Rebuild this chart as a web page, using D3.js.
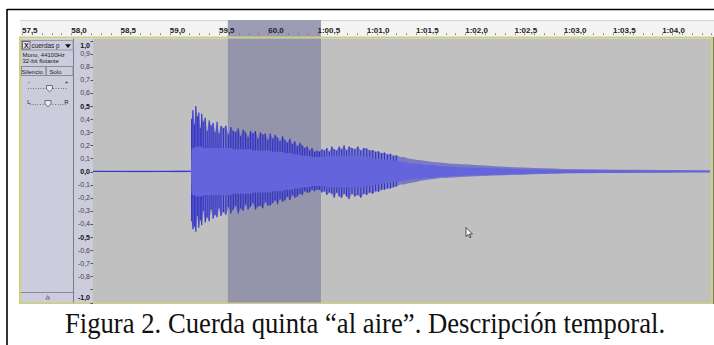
<!DOCTYPE html>
<html><head><meta charset="utf-8">
<script src="https://cdn.jsdelivr.net/npm/d3@7"></script>
<style>body{margin:0;background:#fff}svg{display:block}</style></head>
<body><svg id="c" width="714" height="345"></svg>
<script>
// ---- data ----
const rulerTimes  = [57.5,58.0,58.5,59.0,59.5,60.0,60.5,61.0,61.5,62.0,62.5,63.0,63.5,64.0];
const rulerLabels = ["57,5","58,0","58,5","59,0","59,5","60.0","1:00,5","1:01,0","1:01,5","1:02,0","1:02,5","1:03,0","1:03,5","1:04,0"];
const ampTicks  = [1.0,0.9,0.8,0.7,0.6,0.5,0.4,0.3,0.2,0.1,0.0,-0.1,-0.2,-0.3,-0.4,-0.5,-0.6,-0.7,-0.8,-0.9,-1.0];
const ampLabels = ["1,0","0,9","0,8","0,7","0,6","0,5","0,4","0,3","0,2","0,1","0,0","-0,1","-0,2","-0,3","-0,4","-0,5","-0,6","-0,7","-0,8","","-1,0"];
const ampBold   = ["1,0","0,5","0,0","-0,5","-1,0"];
const selection = [59.59, 60.535];
const trackName = "cuerdas p";
const trackInfo = ["Mono, 44100Hz","32-bit flotante"];
const caption = "Figura 2. Cuerda quinta \u201cal aire\u201d. Descripción temporal.";

const envTime = [58.22,58.45,58.70,58.95,59.10,59.215,
 59.222,59.235,59.25,59.265,59.28,59.295,59.31,59.325,59.34,59.36,59.38,59.40,59.42,59.44,59.46,59.48,59.50,59.52,
 59.545,59.57,59.595,59.62,59.645,59.67,59.695,59.72,59.745,59.77,59.795,59.82,59.845,59.87,59.895,59.92,59.945,59.97,59.995,
 60.02,60.045,60.07,60.095,60.12,60.145,60.17,60.195,60.22,60.245,60.27,60.295,60.32,60.345,60.37,60.395,60.42,60.445,60.47,60.495,
 60.52,60.545,60.57,60.595,60.62,60.645,60.67,60.695,60.72,60.745,60.77,60.795,60.82,60.85,60.88,60.91,60.94,60.97,
 61.00,61.03,61.06,61.09,61.12,61.15,61.18,61.21,61.24,61.27,61.30,61.34,61.38,61.42,61.46,61.50,61.55,61.60,61.65,61.70,61.75,61.80,61.85,61.90,61.95,
 62.00,62.10,62.20,62.30,62.40,62.50,62.60,62.70,62.80,62.90,63.00,63.20,63.40,63.60,63.80,64.00,64.20,64.50];
const envMax = [0.006,0.005,0.006,0.005,0.007,0.006,
 0.40,0.47,0.36,0.50,0.42,0.45,0.33,0.44,0.38,0.41,0.31,0.39,0.35,0.37,0.30,0.38,0.29,0.35,
 0.33,0.35,0.28,0.34,0.31,0.30,0.33,0.27,0.32,0.30,0.26,0.31,0.29,0.31,0.25,0.30,0.28,0.29,0.24,
 0.29,0.25,0.28,0.26,0.23,0.27,0.24,0.22,0.25,0.21,0.23,0.19,0.22,0.20,0.18,0.19,0.16,0.18,0.15,0.16,
 0.15,0.17,0.16,0.18,0.15,0.19,0.17,0.16,0.19,0.17,0.20,0.16,0.19,0.18,0.17,0.19,0.16,0.18,
 0.175,0.16,0.165,0.15,0.155,0.14,0.145,0.13,0.135,0.12,0.125,0.11,0.11,0.10,0.095,0.09,0.085,0.08,0.075,0.07,0.068,0.065,0.06,0.06,0.055,
 0.055,0.05,0.045,0.04,0.036,0.032,0.03,0.027,0.025,0.022,0.02,0.018,0.016,0.014,0.013,0.012,0.011,0.01];
const envMin = [-0.004,-0.004,-0.005,-0.004,-0.005,-0.004,
 -0.38,-0.44,-0.42,-0.46,-0.34,-0.43,-0.37,-0.41,-0.30,-0.39,-0.35,-0.38,-0.29,-0.36,-0.33,-0.35,-0.28,-0.34,
 -0.31,-0.33,-0.27,-0.32,-0.29,-0.26,-0.32,-0.28,-0.30,-0.25,-0.29,-0.27,-0.24,-0.29,-0.27,-0.26,-0.28,-0.23,-0.26,
 -0.26,-0.24,-0.22,-0.25,-0.21,-0.23,-0.22,-0.19,-0.22,-0.18,-0.20,-0.19,-0.17,-0.18,-0.15,-0.16,-0.16,-0.14,-0.15,-0.14,
 -0.14,-0.16,-0.15,-0.18,-0.16,-0.17,-0.20,-0.16,-0.19,-0.20,-0.17,-0.19,-0.21,-0.17,-0.19,-0.18,-0.20,-0.17,
 -0.18,-0.16,-0.17,-0.15,-0.155,-0.14,-0.14,-0.13,-0.13,-0.12,-0.115,-0.10,-0.10,-0.09,-0.085,-0.08,-0.07,-0.065,-0.06,-0.055,-0.05,-0.05,-0.045,-0.045,-0.042,
 -0.04,-0.037,-0.034,-0.03,-0.028,-0.026,-0.024,-0.021,-0.019,-0.017,-0.016,-0.014,-0.012,-0.011,-0.01,-0.009,-0.008,-0.007];
const envRms = [0.002,0.002,0.002,0.002,0.002,0.002,
 0.17,0.18,0.18,0.19,0.19,0.19,0.19,0.19,0.18,0.18,0.18,0.18,0.18,0.18,0.18,0.18,0.18,0.18,
 0.18,0.18,0.18,0.18,0.17,0.17,0.17,0.17,0.17,0.17,0.17,0.17,0.16,0.16,0.16,0.16,0.16,0.16,0.16,
 0.16,0.15,0.15,0.15,0.15,0.15,0.14,0.14,0.14,0.14,0.13,0.13,0.13,0.12,0.12,0.12,0.12,0.11,0.11,0.11,
 0.11,0.11,0.11,0.12,0.12,0.12,0.12,0.12,0.12,0.12,0.12,0.12,0.12,0.12,0.12,0.12,0.12,0.115,
 0.11,0.11,0.105,0.10,0.10,0.095,0.09,0.09,0.085,0.08,0.08,0.075,0.07,0.065,0.06,0.06,0.055,0.05,0.05,0.045,0.04,0.04,0.038,0.035,0.033,
 0.03,0.028,0.026,0.024,0.022,0.02,0.018,0.016,0.015,0.013,0.012,0.011,0.01,0.009,0.008,0.007,0.006,0.006];

// ---- drawing ----
const svg = d3.select("#c");
const x = d3.scaleLinear().domain([57.5, 64.0]).range([22, 662.25]);
const y = d3.scaleLinear().domain([-1, 1]).range([302.5, 40.5]);
const LAV = "#ccccdc", sans = "'Liberation Sans', Arial, sans-serif";

// outer frame
svg.append("line").attr("x1",7).attr("x2",714).attr("y1",9.5).attr("y2",9.5).attr("stroke","#000").attr("stroke-width",1.6);
svg.append("line").attr("x1",7).attr("x2",7).attr("y1",9).attr("y2",345).attr("stroke","#000").attr("stroke-width",1.6);

// time ruler
svg.append("rect").attr("x",20).attr("y",20).attr("width",694).attr("height",17).attr("fill","#f3f3f3");
svg.append("line").attr("x1",20).attr("x2",714).attr("y1",20.5).attr("y2",20.5).attr("stroke","#d4d4d4");
svg.append("rect").attr("x",x(selection[0])).attr("y",20).attr("width",x(selection[1])-x(selection[0])).attr("height",17).attr("fill","#9c9cb4");
const minor = d3.range(575, 646).map(d => d/10);
svg.append("g").selectAll("line").data(minor).join("line")
  .attr("x1",d=>Math.round(x(d))+0.5).attr("x2",d=>Math.round(x(d))+0.5)
  .attr("y1",33.5).attr("y2",35).attr("stroke","#777").attr("stroke-width",1);
svg.append("g").selectAll("text").data(rulerTimes).join("text")
  .attr("x",d=>x(d)).attr("y",32.5).text((d,i)=>rulerLabels[i])
  .attr("font-family",sans).attr("font-weight","bold").attr("font-size",8).attr("fill","#222");

// track border
svg.append("rect").attr("x",20).attr("y",37.5).attr("width",692).attr("height",265.5)
  .attr("fill","none").attr("stroke","#d2cf7c").attr("stroke-width",2);
svg.append("line").attr("x1",713.5).attr("x2",713.5).attr("y1",37).attr("y2",304).attr("stroke","#777").attr("stroke-width",1);

// panel + vertical ruler
svg.append("rect").attr("x",21).attr("y",38.5).attr("width",72).attr("height",264).attr("fill",LAV);
svg.append("line").attr("x1",73.5).attr("x2",73.5).attr("y1",38.5).attr("y2",302.5).attr("stroke","#7c7c88");

// waveform area
svg.append("rect").attr("x",93).attr("y",38.5).attr("width",618).attr("height",264).attr("fill","#c0c0c0");
svg.append("rect").attr("x",x(selection[0])).attr("y",38.5).attr("width",x(selection[1])-x(selection[0])).attr("height",264).attr("fill","#9494aa");

const env = envTime.map((t,i)=>({t, max:envMax[i], min:envMin[i], rms:envRms[i]}));
svg.append("defs").append("clipPath").attr("id","wclip").append("rect")
  .attr("x",93).attr("y",38.5).attr("width",617).attr("height",264);
const wg = svg.append("g").attr("clip-path","url(#wclip)");
wg.append("path").datum(env)
  .attr("d", d3.area().x(d=>x(d.t)).y0(d=>y(d.min)).y1(d=>y(d.max)))
  .attr("fill","#3232c8").attr("fill-opacity",0.5);
wg.append("g").selectAll("line").data(env.filter(d=>d.t>=59.222 && d.t<=61.3)).join("line")
  .attr("x1",d=>x(d.t)).attr("x2",d=>x(d.t)).attr("y1",d=>y(d.min)).attr("y2",d=>y(d.max))
  .attr("stroke","#3232c8").attr("stroke-width",1.1);
wg.append("path").datum(env)
  .attr("d", d3.area().x(d=>x(d.t)).y0(d=>y(-d.rms)).y1(d=>y(d.rms)))
  .attr("fill","#6464dc");
wg.append("path").datum(env.filter(d=>d.t<59.22))
  .attr("d", d3.line().x(d=>x(d.t)).y(d=>y((d.max+d.min)/2)))
  .attr("stroke","#3232c8").attr("stroke-width",1).attr("fill","none");

// vertical ruler
const vr = svg.append("g");
vr.selectAll("line").data(ampTicks).join("line")
  .attr("x1",90.5).attr("x2",93).attr("y1",d=>Math.round(y(d))+0.5).attr("y2",d=>Math.round(y(d))+0.5)
  .attr("stroke","#555");
vr.selectAll("text").data(ampTicks).join("text")
  .attr("x",90).attr("y",d=>Math.min(Math.max(y(d),45),297.5)+2.5)
  .attr("text-anchor","end").attr("font-family",sans).attr("font-size",7)
  .attr("font-weight",(d,i)=>ampBold.includes(ampLabels[i])?"bold":"normal")
  .attr("fill",(d,i)=>ampBold.includes(ampLabels[i])?"#111":"#444")
  .text((d,i)=>ampLabels[i]);

// track control panel
const p = svg.append("g").attr("font-family",sans).attr("fill","#222");
p.append("rect").attr("x",21.5).attr("y",40.5).attr("width",51.5).attr("height",9.5).attr("fill","none").attr("stroke","#9a9aa8");
p.append("rect").attr("x",22.5).attr("y",41.5).attr("width",7.5).attr("height",7.5).attr("fill","#e6e6ee").attr("stroke","#666");
p.append("text").attr("x",26.3).attr("y",48).attr("text-anchor","middle").attr("font-size",7).attr("font-weight","bold").text("X");
p.append("text").attr("x",31.5).attr("y",48).attr("font-size",6.4).text(trackName);
p.append("path").attr("d","M65,44.2 L71,44.2 L68,48 Z").attr("fill","#111");
p.selectAll("text.info").data(trackInfo).join("text").attr("class","info")
  .attr("x",22.5).attr("y",(d,i)=>56.5+i*6.5).attr("font-size",6).text(d=>d);
p.append("rect").attr("x",21.5).attr("y",66.5).attr("width",24.5).attr("height",9).attr("fill","none").attr("stroke","#8a8a98");
p.append("rect").attr("x",46).attr("y",66.5).attr("width",27).attr("height",9).attr("fill","none").attr("stroke","#8a8a98");
p.append("text").attr("x",21.8).attr("y",73.6).attr("font-size",6).text("Silencio");
p.append("text").attr("x",49.5).attr("y",73.6).attr("font-size",6).text("Solo");
// gain slider
p.append("line").attr("x1",28).attr("x2",68).attr("y1",88.5).attr("y2",88.5).attr("stroke","#777").attr("stroke-dasharray","1,1.5");
p.append("text").attr("x",29).attr("y",84).attr("text-anchor","middle").attr("font-size",6).text("-");
p.append("text").attr("x",66.5).attr("y",84).attr("text-anchor","middle").attr("font-size",6).text("+");
p.append("path").attr("d","M46.5,85.5 h6 v3.5 l-3,2.8 l-3,-2.8 z").attr("fill","#e8e8f0").attr("stroke","#555").attr("stroke-width",0.8);
// pan slider
p.append("line").attr("x1",30).attr("x2",66).attr("y1",104.5).attr("y2",104.5).attr("stroke","#777").attr("stroke-dasharray","1,1.5");
p.append("text").attr("x",29).attr("y",103.5).attr("text-anchor","middle").attr("font-size",6).text("L");
p.append("text").attr("x",66.5).attr("y",103.5).attr("text-anchor","middle").attr("font-size",6).text("R");
p.append("path").attr("d","M45,100.5 h6 v3.5 l-3,2.8 l-3,-2.8 z").attr("fill","#e8e8f0").attr("stroke","#555").attr("stroke-width",0.8);
// bottom
p.append("line").attr("x1",21).attr("x2",73).attr("y1",292.5).attr("y2",292.5).attr("stroke","#8a8a98");
p.append("path").attr("d","M45.8,299 L47.8,295.6 L49.8,299 Z").attr("fill","none").attr("stroke","#555").attr("stroke-width",0.7);

// mouse cursor
svg.append("path").attr("d","M466,227.5 v9 l2.2,-2 l1.6,3.2 l1.2,-0.6 l-1.6,-3.1 h3 z")
  .attr("fill","#fff").attr("stroke","#111").attr("stroke-width",0.7);

// caption
svg.append("text").attr("transform","translate(365,333) scale(1,1.12)")
  .attr("text-anchor","middle").attr("font-family","'Liberation Serif','Times New Roman',serif")
  .attr("font-size",26.7).attr("fill","#111").text(caption);
</script></body></html>
